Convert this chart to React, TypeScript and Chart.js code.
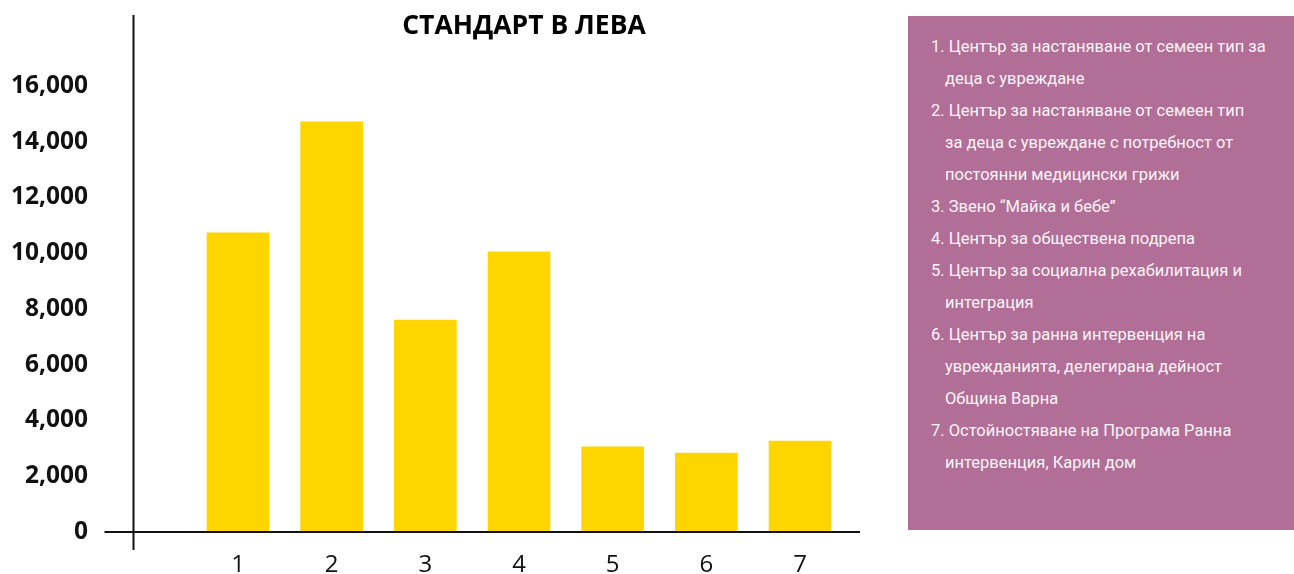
import React, { useEffect, useRef } from 'react';
import { Chart, registerables } from 'chart.js';

Chart.register(...registerables);

// ---- data ----
const categories: number[] = [1, 2, 3, 4, 5, 6, 7];
const values: number[] = [10730, 14710, 7600, 10050, 3050, 2830, 3260];
const yTickValues: number[] = [0, 2000, 4000, 6000, 8000, 10000, 12000, 14000, 16000];
const chartTitle = 'СТАНДАРТ В ЛЕВА';
const legendItems: string[][] = [
  ['1. Център за настаняване от семеен тип за', 'деца с увреждане'],
  ['2. Център за настаняване от семеен тип', 'за деца с увреждане с потребност от', 'постоянни медицински грижи'],
  ['3. Звено “Майка и бебе”'],
  ['4. Център за обществена подрепа'],
  ['5. Център за социална рехабилитация и', 'интеграция'],
  ['6. Център за ранна интервенция на', 'уврежданията, делегирана дейност', 'Община Варна'],
  ['7. Остойностяване на Програма Ранна', 'интервенция, Карин дом'],
];

// ---- layout / style constants ----
const X_MIN = -0.1156;
const X_AXIS_END = 7.64;
const X_MAX = 9.647;
const BAR_COLOR = '#FFD500';
const PANEL_COLOR = '#B16F97';

const axisLinesPlugin = {
  id: 'axisLines',
  afterDatasetsDraw(chart: any) {
    const { ctx, chartArea, scales } = chart;
    const x0 = chartArea.left;
    const y0 = scales.y.getPixelForValue(0);
    const xEnd = scales.x.getPixelForValue(X_AXIS_END);
    ctx.save();
    ctx.strokeStyle = '#111';
    ctx.lineWidth = 2;
    ctx.beginPath();
    ctx.moveTo(x0, 15);
    ctx.lineTo(x0, y0 + 18);
    ctx.moveTo(x0 - 29, y0);
    ctx.lineTo(xEnd, y0);
    ctx.stroke();
    ctx.restore();
  },
};

function BarChart() {
  const ref = useRef<HTMLCanvasElement | null>(null);
  useEffect(() => {
    if (!ref.current) return;
    const chart = new Chart(ref.current, {
      type: 'bar',
      data: {
        datasets: [
          {
            data: values.map((v, i) => ({ x: categories[i], y: v })),
            backgroundColor: BAR_COLOR,
            borderWidth: 0,
            barThickness: 62,
          },
        ],
      },
      options: {
        animation: false,
        responsive: false,
        layout: { padding: 0 },
        plugins: {
          legend: { display: false },
          tooltip: { enabled: false },
          title: {
            display: true,
            text: chartTitle,
            color: '#000',
            font: { family: 'Open Sans', weight: 'bold', size: 26.5 },
            padding: { top: 11, bottom: 43 },
          },
        },
        scales: {
          x: {
            type: 'linear',
            offset: false,
            min: X_MIN,
            max: X_MAX,
            grid: { display: false },
            border: { display: false },
            afterBuildTicks: (scale: any) => {
              scale.ticks = categories.map((c) => ({ value: c }));
            },
            afterFit: (scale: any) => {
              scale.height = 42;
            },
            ticks: {
              autoSkip: false,
              maxRotation: 0,
              padding: 11,
              color: '#111',
              font: { family: 'Open Sans', size: 24 },
              callback: (v: any) => String(v),
            },
          },
          y: {
            min: 0,
            max: 16000,
            grid: { display: false, drawTicks: false },
            border: { display: false },
            afterBuildTicks: (scale: any) => {
              scale.ticks = yTickValues.map((v) => ({ value: v }));
            },
            afterFit: (scale: any) => {
              scale.width = 133.5;
              scale.paddingTop = 15;
              scale.paddingBottom = 15;
            },
            ticks: {
              padding: 45.5,
              color: '#111',
              font: { family: 'Open Sans', weight: 'bold', size: 24.5 },
              callback: (v: any) => Number(v).toLocaleString('en-US'),
            },
          },
        },
      },
      plugins: [axisLinesPlugin],
    });
    return () => chart.destroy();
  }, []);
  return <canvas ref={ref} width={1048} height={574} style={{ position: 'absolute', left: 0, top: 0 }} />;
}

function LegendPanel() {
  return (
    <div
      style={{
        position: 'absolute',
        left: 908,
        top: 16,
        width: 386,
        height: 514,
        background: PANEL_COLOR,
        color: '#FBF4F8',
        fontFamily: 'Roboto, "Open Sans", sans-serif',
        fontSize: 16.5,
        lineHeight: '32px',
        paddingTop: 15,
        boxSizing: 'border-box',
      }}
    >
      {legendItems.map((lines, i) =>
        lines.map((line, j) => (
          <div
            key={`${i}-${j}`}
            style={{ paddingLeft: j === 0 ? 23 : 37, whiteSpace: 'nowrap' }}
          >
            {line}
          </div>
        ))
      )}
    </div>
  );
}

export default function App() {
  return (
    <div style={{ position: 'absolute', left: 0, top: 0, width: 1294, height: 574, overflow: 'hidden', background: '#fff' }}>
      <BarChart />
      <LegendPanel />
    </div>
  );
}
